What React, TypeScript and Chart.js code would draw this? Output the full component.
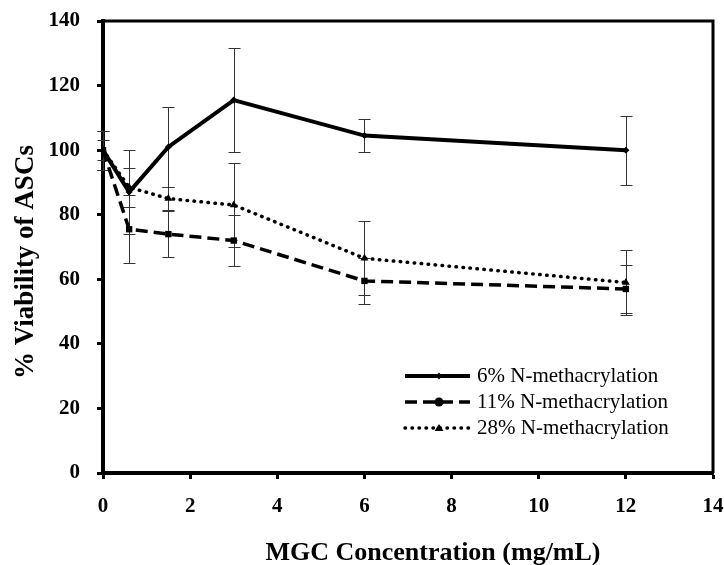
import React, { useEffect, useRef } from "react";
import { Chart, registerables } from "chart.js";

Chart.register(...registerables);

const concentrations = [0, 0.6, 1.5, 3, 6, 12];
const seriesLabels = ["6% N-methacrylation", "11% N-methacrylation", "28% N-methacrylation"];
const viability6 = [100, 87, 101, 115.5, 104.5, 100];
const error6 = [6, 13, 12.5, 16, 5, 10.7];
const viability11 = [100, 75.5, 74, 72, 59.5, 57];
const error11 = [3, 10.5, 7, 8, 7, 7.5];
const viability28 = [100, 88.5, 85, 83, 66.5, 59];
const error28 = [6, 6, 3.5, 13, 11.5, 10];
const xTitle = "MGC Concentration (mg/mL)";
const yTitle = "% Viability of ASCs";

const FONT = "'Liberation Serif', 'Times New Roman', serif";

const toPoints = (ys: number[]) => concentrations.map((x, i) => ({ x, y: ys[i] }));

const errorBarPlugin = {
  id: "errorBars",
  beforeDatasetsDraw(chart: any) {
    const { ctx, scales } = chart;
    const xs = scales.x;
    const ys = scales.y;
    const errs = [error6, error11, error28];
    const vals = [viability6, viability11, viability28];
    ctx.save();
    ctx.strokeStyle = "#333";
    ctx.lineWidth = 1;
    errs.forEach((err, s) => {
      concentrations.forEach((c, i) => {
        const px = Math.round(xs.getPixelForValue(c)) + 0.5;
        const top = Math.round(ys.getPixelForValue(vals[s][i] + err[i])) + 0.5;
        const bot = Math.round(ys.getPixelForValue(vals[s][i] - err[i])) + 0.5;
        ctx.beginPath();
        ctx.moveTo(px, top);
        ctx.lineTo(px, bot);
        ctx.moveTo(px - 6, top);
        ctx.lineTo(px + 6, top);
        ctx.moveTo(px - 6, bot);
        ctx.lineTo(px + 6, bot);
        ctx.stroke();
      });
    });
    ctx.restore();
  },
};

const framePlugin = {
  id: "frame",
  afterDraw(chart: any) {
    const { ctx, chartArea } = chart;
    ctx.save();
    ctx.strokeStyle = "#000";
    ctx.lineWidth = 3;
    ctx.beginPath();
    ctx.moveTo(chartArea.left, chartArea.top);
    ctx.lineTo(chartArea.right, chartArea.top);
    ctx.lineTo(chartArea.right, chartArea.bottom);
    ctx.stroke();
    ctx.restore();
  },
};

const titlePlugin = {
  id: "axisTitles",
  afterDraw(chart: any) {
    const { ctx } = chart;
    ctx.save();
    ctx.fillStyle = "#000";
    ctx.textAlign = "center";
    ctx.textBaseline = "alphabetic";
    ctx.font = `bold 26px ${FONT}`;
    ctx.fillText(xTitle, 433, 560);
    ctx.translate(33, 262);
    ctx.rotate(-Math.PI / 2);
    ctx.font = `bold 27px ${FONT}`;
    ctx.fillText(yTitle, 0, 0);
    ctx.restore();
  },
};

const legendPlugin = {
  id: "innerLegend",
  afterDraw(chart: any) {
    const { ctx, chartArea } = chart;
    const x0 = chartArea.left + 302;
    const x1 = x0 + 65;
    const xm = x0 + 34;
    const ys = [chartArea.top + 355, chartArea.top + 381, chartArea.top + 407];
    chart.data.datasets.forEach((ds: any, i: number) => {
      const y = ys[i];
      ctx.save();
      ctx.strokeStyle = "#000";
      ctx.lineWidth = ds.borderWidth;
      ctx.lineCap = ds.borderCapStyle || "butt";
      ctx.setLineDash(ds.borderDash || []);
      ctx.beginPath();
      ctx.moveTo(x0, y);
      ctx.lineTo(x1, y);
      ctx.stroke();
      ctx.setLineDash([]);
      ctx.fillStyle = "#000";
      ctx.beginPath();
      if (i === 0) {
        ctx.moveTo(xm, y - 3.5);
        ctx.lineTo(xm + 3.5, y);
        ctx.lineTo(xm, y + 3.5);
        ctx.lineTo(xm - 3.5, y);
      } else if (i === 1) {
        ctx.arc(xm, y, 4.5, 0, Math.PI * 2);
      } else {
        ctx.moveTo(xm, y - 4);
        ctx.lineTo(xm + 4.5, y + 3);
        ctx.lineTo(xm - 4.5, y + 3);
      }
      ctx.closePath();
      ctx.fill();
      ctx.font = `21px ${FONT}`;
      ctx.textBaseline = "middle";
      ctx.textAlign = "left";
      ctx.fillText(ds.label, x1 + 7, y);
      ctx.restore();
    });
  },
};

export default function App() {
  const ref = useRef<HTMLCanvasElement | null>(null);

  useEffect(() => {
    if (!ref.current) return;
    const chart = new Chart(ref.current, {
      type: "line",
      data: {
        datasets: [
          {
            label: seriesLabels[0],
            data: toPoints(viability6),
            borderColor: "#000",
            backgroundColor: "#000",
            borderWidth: 4,
            pointStyle: "rectRot",
            pointRadius: 3.5,
            pointBorderWidth: 0,
            tension: 0,
          },
          {
            label: seriesLabels[1],
            data: toPoints(viability11),
            borderColor: "#000",
            backgroundColor: "#000",
            borderWidth: 3.5,
            borderDash: [12, 6],
            pointStyle: "rect",
            pointRadius: 4.5,
            pointBorderWidth: 0,
            tension: 0,
          },
          {
            label: seriesLabels[2],
            data: toPoints(viability28),
            borderColor: "#000",
            backgroundColor: "#000",
            borderWidth: 3.5,
            borderDash: [0.5, 6.5],
            borderCapStyle: "round",
            pointStyle: "triangle",
            pointRadius: 4.5,
            pointBorderWidth: 0,
            tension: 0,
          },
        ],
      } as any,
      options: {
        animation: false,
        responsive: false,
        layout: { padding: { left: 0, top: 21, right: 11, bottom: 0 } },
        plugins: {
          legend: { display: false },
          tooltip: { enabled: false },
        },
        scales: {
          x: {
            type: "linear",
            min: 0,
            max: 14,
            afterFit: (s: any) => {
              s.height = 92;
              s.paddingLeft = 0;
              s.paddingRight = 0;
            },
            ticks: {
              stepSize: 2,
              color: "#000",
              padding: 15,
              font: { family: FONT, size: 21, weight: "bold" },
            },
            grid: {
              display: true,
              drawOnChartArea: false,
              drawTicks: true,
              tickLength: 6,
              tickWidth: 3,
              color: "#000",
            },
            border: { display: true, color: "#000", width: 4 },
            title: { display: false },
          },
          y: {
            type: "linear",
            min: 0,
            max: 140,
            afterFit: (s: any) => {
              s.width = 103;
              s.paddingTop = 0;
              s.paddingBottom = 0;
            },
            ticks: {
              stepSize: 20,
              color: "#000",
              padding: 17,
              font: { family: FONT, size: 21, weight: "bold" },
            },
            grid: {
              display: true,
              drawOnChartArea: false,
              drawTicks: true,
              tickLength: 6,
              tickWidth: 3,
              color: "#000",
            },
            border: { display: true, color: "#000", width: 4 },
            title: { display: false },
          },
        },
      } as any,
      plugins: [errorBarPlugin, framePlugin, titlePlugin, legendPlugin],
    });
    return () => chart.destroy();
  }, []);

  return (
    <div style={{ position: "absolute", left: 0, top: 0, width: 724, height: 565, background: "#fff" }}>
      <canvas ref={ref} width={724} height={565} style={{ display: "block" }} />
    </div>
  );
}
